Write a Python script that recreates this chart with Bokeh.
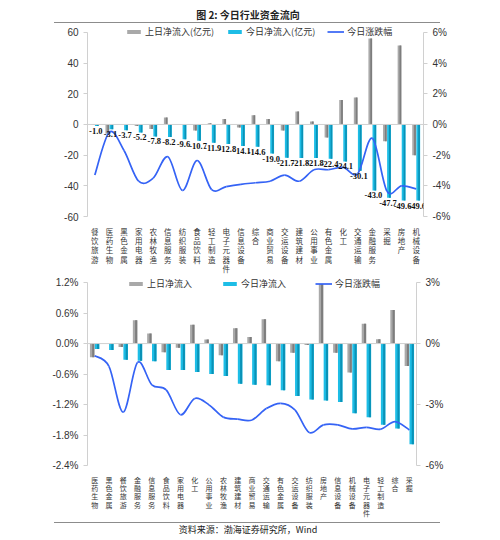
import numpy as np
from bokeh.plotting import figure
from bokeh.models import (Range1d, LinearAxis, FixedTicker, Span, Legend, LegendItem,
                          ColumnDataSource, Div, LabelSet)
from bokeh.layouts import column
from bokeh.transform import dodge
from bokeh.core.properties import value
from bokeh.embed import file_html
from bokeh.resources import INLINE

# ---------------- data: top chart (亿元) ----------------
top_categories = ["餐饮旅游", "医药生物", "黑色金属", "家用电器", "农林牧渔", "信息服务", "纺织服装",
                  "食品饮料", "轻工制造", "电子元器件", "信息设备", "综合", "商业贸易", "交运设备",
                  "建筑建材", "公用事业", "有色金属", "化工", "交通运输", "金融服务", "采掘",
                  "房地产", "机械设备"]
top_prev_inflow = [-0.3, -6.0, 0.0, -1.0, -3.0, 4.5, 0.0, -4.0, 0.8, 3.5, -2.0, 6.0, 3.5,
                   -4.0, 8.5, 2.0, -8.5, 16.0, 17.5, 56.0, -11.0, 51.5, -20.0]
top_today_inflow = [-1.0, -3.1, -3.7, -5.2, -7.8, -8.2, -9.6, -10.7, -11.9, -12.8, -14.1, -14.6,
                    -19.0, -21.7, -21.8, -21.8, -22.4, -24.1, -30.1, -43.0, -47.7, -49.6, -49.6]
top_change_pct = [-3.3, -0.5, -1.7, -3.7, -3.5, -2.1, -4.3, -2.35, -4.25, -4.05, -3.9, -3.8,
                  -3.7, -3.3, -3.7, -2.95, -2.95, -2.8, -3.2, -0.9, -4.35, -4.0, -4.2]
top_left_ticks = [-60, -40, -20, 0, 20, 40, 60]
top_left_labels = ["-60", "-40", "-20", "0", "20", "40", "60"]
top_right_ticks = [-6, -4, -2, 0, 2, 4, 6]
top_right_labels = ["-6%", "-4%", "-2%", "0%", "2%", "4%", "6%"]

# ---------------- data: bottom chart (%) ----------------
bot_categories = ["医药生物", "黑色金属", "餐饮旅游", "金融服务", "信息服务", "食品饮料", "家用电器",
                  "化工", "公用事业", "农林牧渔", "建筑建材", "商业贸易", "交通运输", "有色金属",
                  "交运设备", "纺织服装", "房地产", "信息设备", "机械设备", "电子元器件", "轻工制造",
                  "综合", "采掘"]
bot_prev_inflow = [-0.27, 0.0, -0.07, 0.46, 0.2, -0.17, -0.08, 0.37, 0.08, -0.23, 0.3, 0.13,
                   0.48, -0.35, -0.18, -0.03, 1.17, -0.18, -0.57, 0.39, 0.085, 0.66, -0.44]
bot_today_inflow = [-0.105, -0.125, -0.32, -0.34, -0.35, -0.52, -0.52, -0.56, -0.6, -0.64, -0.79,
                    -0.81, -0.82, -0.92, -1.03, -1.1, -1.12, -1.15, -1.37, -1.45, -1.6, -1.67, -1.98]
bot_change_pct = [-0.6, -1.12, -3.37, -0.93, -2.03, -2.28, -3.5, -2.7, -3.02, -3.62, -3.72, -3.76,
                  -3.2, -2.94, -3.26, -4.38, -4.0, -4.0, -4.2, -4.12, -4.21, -3.84, -4.25]
bot_left_ticks = [-2.4, -1.8, -1.2, -0.6, 0.0, 0.6, 1.2]
bot_left_labels = ["-2.4%", "-1.8%", "-1.2%", "-0.6%", "0.0%", "0.6%", "1.2%"]
bot_right_ticks = [-6, -3, 0, 3]
bot_right_labels = ["-6%", "-3%", "0%", "3%"]

title_text = "图 2: 今日行业资金流向"
source_text = "资料来源：渤海证券研究所，Wind"

GRAY = "#a9a9a9"
GRAY_D = "#7d7d7d"
CYAN = "#1dbde6"
CYAN_D = "#0a92b6"
BLUE = "#3563f5"
AX = "#d0d0d0"
TXT = "#333333"
CJK = "Noto Sans CJK SC"


def bezier_source(xs, ys):
    n = len(xs)
    d = dict(x0=[], y0=[], x1=[], y1=[], cx0=[], cy0=[], cx1=[], cy1=[])
    for i in range(n - 1):
        a = i - 1 if i > 0 else i
        b = i + 2 if i + 2 < n else i + 1
        d["x0"].append(xs[i]); d["y0"].append(ys[i])
        d["x1"].append(xs[i + 1]); d["y1"].append(ys[i + 1])
        d["cx0"].append(xs[i] + (xs[i + 1] - xs[a]) / 6.0)
        d["cy0"].append(ys[i] + (ys[i + 1] - ys[a]) / 6.0)
        d["cx1"].append(xs[i + 1] - (xs[b] - xs[i]) / 6.0)
        d["cy1"].append(ys[i + 1] - (ys[b] - ys[i]) / 6.0)
    return ColumnDataSource(d)


def style_yaxis(ax, ticks, labels, align=None):
    ax.ticker = FixedTicker(ticks=ticks)
    ax.bounds = (min(ticks), max(ticks))
    ax.major_label_overrides = {t: l for t, l in zip(ticks, labels)}
    ax.axis_line_color = AX
    ax.major_tick_line_color = AX
    ax.major_tick_out = 4
    ax.major_tick_in = 0
    ax.minor_tick_line_color = None
    ax.major_label_text_font = "Liberation Sans"
    ax.major_label_text_font_size = "10px"
    ax.major_label_text_color = TXT
    ax.major_label_standoff = 5
    if align is not None:
        ax.major_label_text_align = align


def make_chart(cats, prev, today, change, lrange, lticks, llabels, rrange, rticks, rlabels,
               frame_w, frame_h, border_left, border_top, border_bottom, prev_label,
               today_label, legend_loc, legend_spacing, bar_w, off, cat_font, cat_lh,
               cat_standoff, show_values):
    n = len(cats)
    xs = list(range(n))
    p = figure(frame_width=frame_w, frame_height=frame_h, output_backend="svg",
               toolbar_location=None,
               x_range=Range1d(-0.5, n - 0.5), y_range=Range1d(*lrange),
               min_border_left=border_left, min_border_right=40,
               min_border_top=border_top, min_border_bottom=border_bottom,
               margin=(0, 0, 0, 0))
    p.outline_line_color = None
    p.xgrid.visible = False
    p.ygrid.visible = False
    p.background_fill_color = "white"
    p.extra_y_ranges = {"pct": Range1d(*rrange)}

    src = ColumnDataSource(dict(x=xs, prev=prev, today=today,
                                lab=["%.1f" % v for v in today]))

    p.add_layout(Span(location=0, dimension="width", line_color=AX, line_width=1))

    r_prev = p.vbar(x=dodge("x", -off, range=p.x_range), top="prev", bottom=0, width=bar_w,
                    source=src, fill_color=GRAY, line_color=None)
    p.vbar(x=dodge("x", -off + bar_w * 0.22, range=p.x_range), top="prev", bottom=0,
           width=bar_w * 0.45, source=src, fill_color=GRAY_D, line_color=None)
    r_today = p.vbar(x=dodge("x", off, range=p.x_range), top="today", bottom=0, width=bar_w,
                     source=src, fill_color=CYAN, line_color=None)
    p.vbar(x=dodge("x", off + bar_w * 0.22, range=p.x_range), top="today", bottom=0,
           width=bar_w * 0.45, source=src, fill_color=CYAN_D, line_color=None)

    if show_values:
        labels = LabelSet(x=dodge("x", off, range=p.x_range), y="today", text="lab",
                          source=src, x_offset=-1, y_offset=-2,
                          text_font=value("Liberation Serif"), text_font_style="bold",
                          text_font_size="8.5px", text_color="#111111", text_align="center",
                          text_baseline="top")
        p.add_layout(labels)

    bsrc = bezier_source([float(v) for v in xs], change)
    r_line = p.bezier(x0="x0", y0="y0", x1="x1", y1="y1", cx0="cx0", cy0="cy0",
                      cx1="cx1", cy1="cy1", source=bsrc, line_color=BLUE, line_width=1.7,
                      y_range_name="pct")

    style_yaxis(p.yaxis[0], lticks, llabels, "left")
    rax = LinearAxis(y_range_name="pct")
    style_yaxis(rax, rticks, rlabels)
    p.add_layout(rax, "right")

    xa = p.xaxis[0]
    xa.ticker = FixedTicker(ticks=xs)
    xa.major_label_overrides = {i: "\n".join(c) for i, c in enumerate(cats)}
    xa.axis_line_color = None
    xa.major_tick_line_color = None
    xa.minor_tick_line_color = None
    xa.major_label_text_font = CJK
    xa.major_label_text_font_size = cat_font
    xa.major_label_text_line_height = cat_lh
    xa.major_label_text_color = TXT
    xa.major_label_standoff = cat_standoff

    legend = Legend(items=[LegendItem(label=prev_label, renderers=[r_prev]),
                           LegendItem(label=today_label, renderers=[r_today]),
                           LegendItem(label="今日涨跌幅", renderers=[r_line])],
                    orientation="horizontal", location=legend_loc,
                    glyph_width=17, glyph_height=5, label_standoff=3, spacing=legend_spacing,
                    padding=0, margin=0, border_line_alpha=0, background_fill_alpha=0,
                    label_text_font=CJK, label_text_font_size="9px", label_height=10,
                    label_text_color=TXT)
    p.add_layout(legend)
    return p


# top chart: frame page y 25..216 (60 tick at ~32), x 80..416
p1 = make_chart(top_categories, top_prev_inflow, top_today_inflow, top_change_pct,
                (-60, 64.5), top_left_ticks, top_left_labels, (-6, 6.45), top_right_ticks,
                top_right_labels, frame_w=336, frame_h=191, border_left=80, border_top=0,
                border_bottom=59, prev_label="上日净流入(亿元)", today_label="今日净流入(亿元)",
                legend_loc=(38, 178), legend_spacing=12, bar_w=0.26, off=0.14,
                cat_font="7.5px", cat_lh=0.85, cat_standoff=3, show_values=True)

# bottom chart: frame page y 275..464 (1.2% tick at ~281), x 87..416
p2 = make_chart(bot_categories, bot_prev_inflow, bot_today_inflow, bot_change_pct,
                (-2.4, 1.32), bot_left_ticks, bot_left_labels, (-6, 3.3), bot_right_ticks,
                bot_right_labels, frame_w=329, frame_h=189, border_left=87, border_top=0,
                border_bottom=55, prev_label="上日净流入", today_label="今日净流入",
                legend_loc=(40, 175.5), legend_spacing=29, bar_w=0.32, off=0.17,
                cat_font="7px", cat_lh=0.84, cat_standoff=3, show_values=False)

header = Div(width=484, height=25, margin=(0, 0, 0, 0), text=(
    '<div style="position:relative;width:484px;height:25px;margin:0;padding:0;">'
    '<div style="position:absolute;left:8px;width:480px;top:9px;text-align:center;'
    "font-family:'Noto Sans CJK SC';font-weight:bold;font-size:10px;line-height:12px;color:#222;\">"
    + title_text + '</div>'
    '<div style="position:absolute;left:54px;width:386px;top:22px;height:0;'
    'border-top:1.5px solid #8c8c8c;"></div></div>'))

footer = Div(width=484, height=18, margin=(0, 0, 0, 0), text=(
    '<div style="position:relative;width:484px;height:18px;margin:0;padding:0;">'
    '<div style="position:absolute;left:54px;width:386px;top:1px;height:0;'
    'border-top:1.5px solid #8c8c8c;"></div>'
    '<div style="position:absolute;left:8px;width:480px;top:3px;text-align:center;'
    "font-family:'Noto Sans CJK SC';font-size:9px;line-height:11px;color:#222;\">"
    + source_text + '</div></div>'))

layout = column(header, p1, p2, footer, spacing=0)

open("out.html", "w").write(file_html(layout, INLINE))
